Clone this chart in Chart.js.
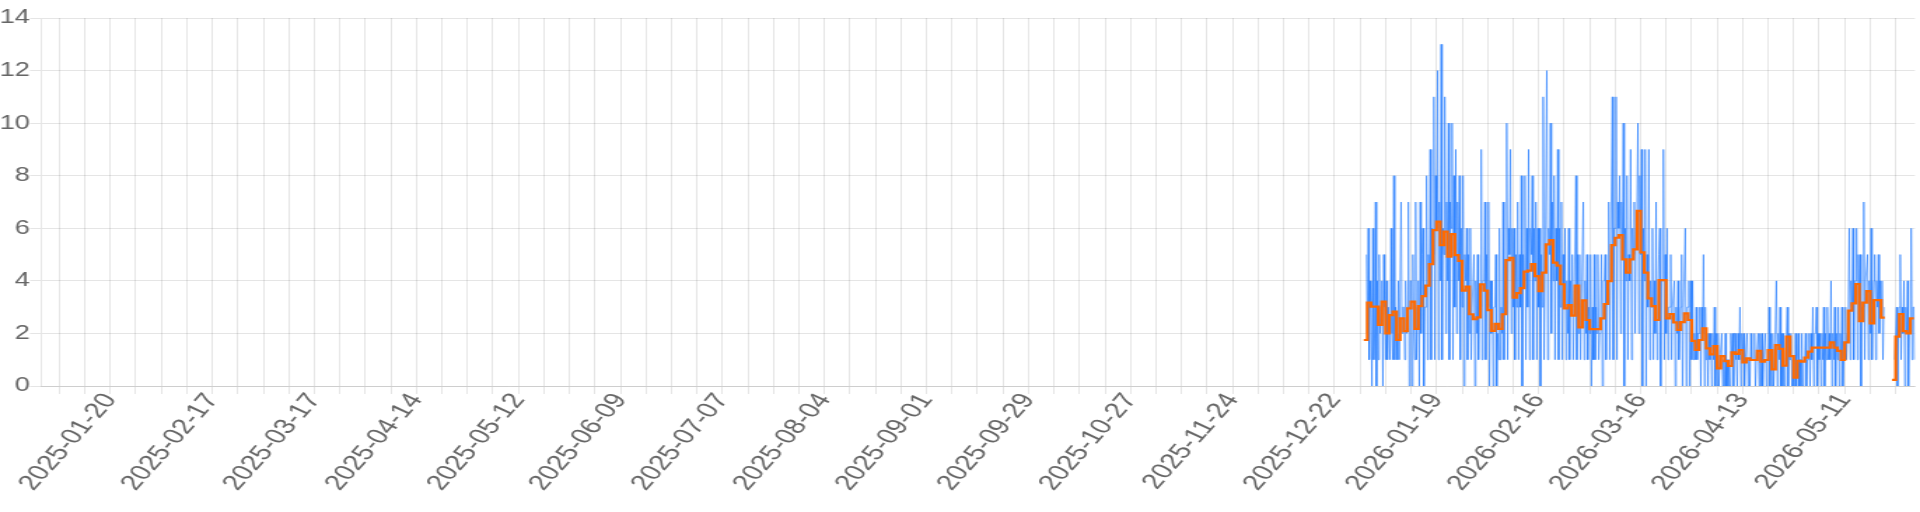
<!DOCTYPE html>
<html>
<head>
<meta charset="utf-8">
<script src="https://cdn.jsdelivr.net/npm/chart.js@4.4.1/dist/chart.umd.min.js"></script>
<style>
  html, body { margin: 0; padding: 0; background: #fff; overflow: hidden; }
  /* the reference is drawn wide: render at 1371px and stretch to 1920px */
  #wrap { width: 1371px; height: 512px; transform: scaleX(1.40044); transform-origin: 0 0; }
</style>
</head>
<body>
<div id="wrap"><canvas id="chart"></canvas></div>
<script>
const DAY = 86400000;
const axisStart = Date.UTC(2025, 0, 1);
const axisEnd = Date.UTC(2026, 4, 30, 7);
const firstMonday = Date.UTC(2025, 0, 6);
const seriesStart = Date.UTC(2025, 11, 30);

const tickLabels = ['2025-01-20', '2025-02-17', '2025-03-17', '2025-04-14', '2025-05-12', '2025-06-09',
    '2025-07-07', '2025-08-04', '2025-09-01', '2025-09-29', '2025-10-27', '2025-11-24', '2025-12-22',
    '2026-01-19', '2026-02-16', '2026-03-16', '2026-04-13', '2026-05-11'];

const yTicks = [0, 2, 4, 6, 8, 10, 12, 14];

// daily average, one value per day starting 2025-12-30
const dailyAvg = [
    1.75, 3.17, 3.02, 3.02, 2.32, 3.21, 2.00, 2.70, 2.83, 1.75,
    2.57, 2.09, 2.95, 3.21, 2.17, 3.04, 3.42, 3.82, 4.64, 5.93,
    6.25, 5.36, 5.87, 4.92, 5.78, 4.98, 4.76, 3.63, 3.78, 2.73,
    2.54, 2.61, 3.87, 3.63, 2.89, 2.10, 2.36, 2.17, 2.73, 4.79,
    4.88, 3.36, 3.53, 3.72, 4.35, 4.39, 4.64, 4.18, 3.61, 4.31,
    5.39, 5.55, 4.69, 4.58, 3.87, 2.95, 3.08, 2.68, 3.82, 2.23,
    3.26, 2.51, 2.16, 2.16, 2.16, 2.57, 3.12, 3.99, 5.36, 5.64,
    5.74, 4.82, 4.31, 4.82, 5.20, 6.66, 5.08, 4.31, 3.33, 3.04,
    2.51, 4.03, 4.03, 2.57, 2.74, 2.42, 2.13, 2.43, 2.76, 2.51,
    1.72, 1.37, 1.75, 2.19, 1.43, 1.20, 1.52, 0.67, 1.14, 0.95,
    0.76, 1.28, 1.22, 1.37, 0.90, 1.05, 0.99, 0.99, 1.34, 0.93,
    0.99, 1.37, 0.63, 1.56, 1.41, 0.77, 1.88, 1.14, 0.32, 0.96,
    0.93, 1.08, 1.31, 1.46, 1.46, 1.46, 1.46, 1.46, 1.66, 1.46,
    1.34, 0.99, 1.66, 2.87, 3.14, 3.88, 2.47, 3.17, 3.61, 2.38,
    3.27, 3.27, 2.60, 2.60, null, 0.23, 1.88, 2.74, 2.09, 2.00,
    2.57, 2.57
];

// counts every 6 hours, one string per day starting 2025-12-30
// '.' = no data, a..d = 10..13
const countsDec = ['...5', '2614'];
const countsJan = [
    '3061', '2704', '1523', '4053', '1413', '3162', '1813',
    '2141', '1723', '3142', '3704', '4052', '1713', '4072',
    '5603', '3815', '4916', '5b18', '6c17', '4d16', '5b27',
    '4a17', '6a18', '3927', '4816', '3805', '4615', '2613',
    '3504', '2513', '3914'
];
const countsFeb = [
    '4715', '3704', '2403', '3502', '1613', '2714', '4a16',
    '5926', '3615', '3715', '3805', '4816', '3916', '5816',
    '4716', '3605', '3b14', '4c16', '5a27', '4816', '4916',
    '3715', '3614', '2614', '3513', '3815', '2513', '3714'
];
const countsMar = [
    '2513', '2503', '1513', '2512', '3504', '4514', '4715',
    '5b16', '6b17', '6827', '5a06', '4815', '4916', '5726',
    '7a28', '5906', '4905', '3914', '3614', '2713', '5604',
    '4915', '2613', '3513', '3403', '2412', '3503', '3603',
    '3404', '1412', '1312'
];
const countsApr = [
    '2303', '2503', '1202', '1202', '1302', '0201', '1201',
    '0201', '0102', '1202', '2102', '1302', '1201', '1201',
    '0211', '1201', '1202', '0201', '1201', '1302', '0201',
    '1402', '1302', '0201', '2302', '1201', '0020', '1201',
    '0201', '1201'
];
const countsMay = [
    '1202', '1302', '2302', '1202', '1302', '1312', '1402',
    '1302', '1302', '1301', '1312', '3614', '3614', '4615',
    '3503', '3714', '4514', '2613', '4514', '3524', '3413',
    '....', '....', '...1', '2302', '3513', '2403', '2402',
    '2613', '31'
];

const countDays = [].concat(countsDec, countsJan, countsFeb, countsMar, countsApr, countsMay);

const avgPoints = dailyAvg.map((v, i) => ({ x: seriesStart + i * DAY, y: v }));

const countPoints = [];
countDays.forEach((day, d) => {
    for (let h = 0; h < day.length; h++) {
        const c = day[h];
        countPoints.push({ x: seriesStart + d * DAY + h * 6 * 3600000, y: c === '.' ? null : parseInt(c, 16) });
    }
});

function fmtDate(ms) {
    const d = new Date(ms);
    const mm = String(d.getUTCMonth() + 1).padStart(2, '0');
    const dd = String(d.getUTCDate()).padStart(2, '0');
    return d.getUTCFullYear() + '-' + mm + '-' + dd;
}

Chart.defaults.font.size = 19.5;
Chart.defaults.color = '#666';

new Chart(document.getElementById('chart'), {
    type: 'line',
    data: {
        datasets: [{
            label: 'daily average',
            data: avgPoints,
            borderColor: '#ff6a00',
            borderWidth: 2.2,
            pointRadius: 0,
            stepped: true,
            fill: false
        }, {
            label: 'count',
            data: countPoints,
            borderColor: 'rgb(30, 120, 255)',
            borderWidth: 0.6,
            pointRadius: 0,
            fill: false
        }]
    },
    options: {
        animation: false,
        responsive: true,
        maintainAspectRatio: false,
        layout: { padding: { top: 18, right: 3.6, left: 0, bottom: 0 } },
        plugins: { legend: { display: false }, tooltip: { enabled: false } },
        scales: {
            x: {
                type: 'linear',
                min: axisStart,
                max: axisEnd,
                afterBuildTicks: function (scale) {
                    const ticks = [];
                    for (let t = firstMonday; t <= axisEnd; t += 7 * DAY) ticks.push({ value: t });
                    scale.ticks = ticks;
                },
                afterFit: function (scale) { scale.height = 126; },
                ticks: {
                    autoSkip: false,
                    minRotation: 57,
                    maxRotation: 57,
                    padding: -5,
                    labelOffset: 0,
                    font: { size: 21.5 },
                    callback: function (value) {
                        const s = fmtDate(value);
                        return tickLabels.includes(s) ? s : '';
                    }
                }
            },
            y: {
                min: 0,
                max: 14,
                afterFit: function (scale) { scale.width = 29.35; },
                afterBuildTicks: function (scale) {
                    scale.ticks = yTicks.map(v => ({ value: v }));
                },
                ticks: { padding: 0 }
            }
        }
    }
});
</script>
</body>
</html>
